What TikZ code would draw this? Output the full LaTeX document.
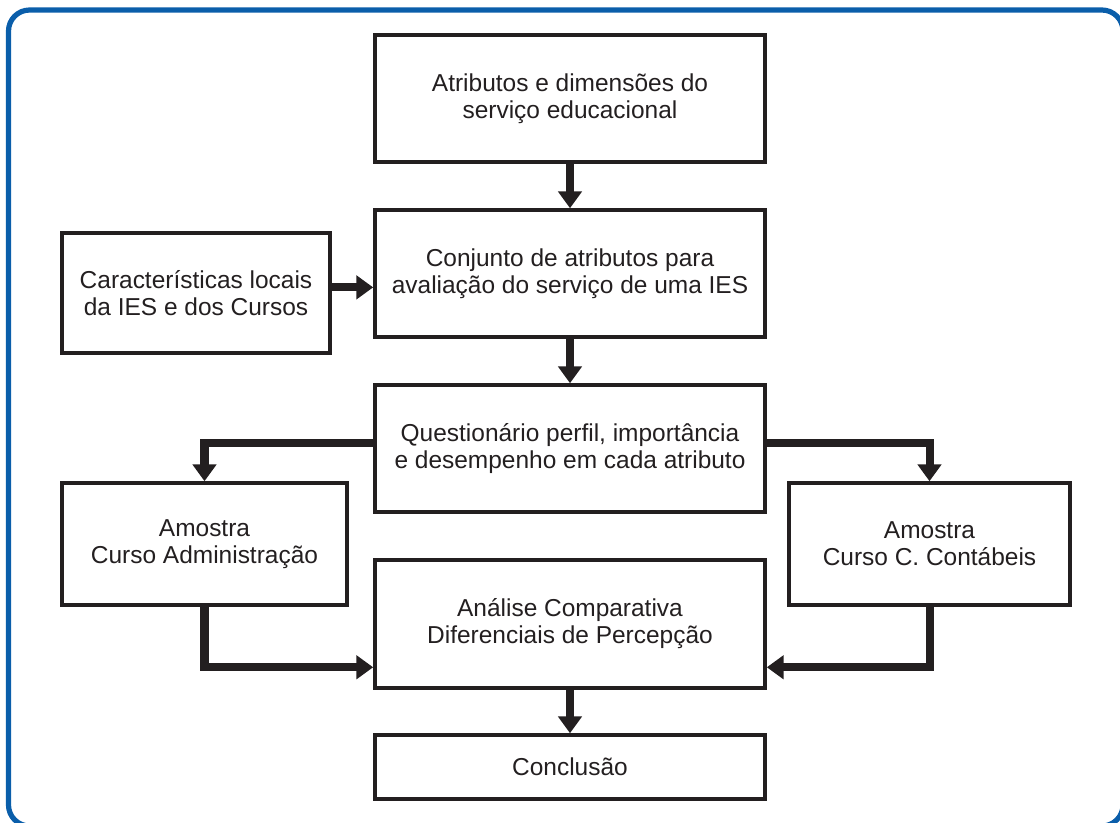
\documentclass[tikz,border=0pt]{standalone}
\usepackage{fontspec}
\setmainfont{Liberation Sans}
\usetikzlibrary{arrows.meta}
\definecolor{framebl}{RGB}{10,94,170}
\definecolor{boxink}{RGB}{35,31,32}

\begin{document}
\begin{tikzpicture}[x=0.025cm,y=-0.025cm,line join=miter,
  caixa/.style={draw=boxink,line width=2.5pt,inner sep=0pt,align=center,text=boxink,
    font=\fontsize{17.4}{19.2}\selectfont},
  seta/.style={draw=boxink,line width=5.7pt,-{Triangle[length=12pt,width=16.5pt]}}]
  \clip (0,0) rectangle (1120,823);
  % moldura azul
  \draw[framebl,line width=3.7pt,rounded corners=15pt] (8.5,10) rectangle (1123,826);
  % caixas
  \node[caixa,minimum width=9.75cm,minimum height=3.175cm] (atrib) at (570,98.5) {Atributos e dimensões do\\serviço educacional};
  \node[caixa,minimum width=9.75cm,minimum height=3.175cm] (conj) at (570,273.5) {Conjunto de atributos para\\avaliação do serviço de uma IES};
  \node[caixa,minimum width=6.7cm,minimum height=3.0cm] (carac) at (196,293) {Características locais\\da IES e dos Cursos};
  \node[caixa,minimum width=9.75cm,minimum height=3.175cm] (quest) at (570,448.5) {Questionário perfil, importância\\e desempenho em cada atributo};
  \node[caixa,minimum width=7.125cm,minimum height=3.05cm] (amAdm) at (204.5,544) {Amostra\\Curso Administração};
  \node[caixa,minimum width=7.025cm,minimum height=3.05cm] (amCont) at (929.5,544) {Amostra\\Curso C. Contábeis};
  \node[caixa,minimum width=9.75cm,minimum height=3.2cm] (anal) at (570,624) {Análise Comparativa\\Diferenciais de Percepção};
  \node[caixa,minimum width=9.75cm,minimum height=1.6cm] (concl) at (570,767) {Conclusão};
  % setas
  \draw[seta] (atrib.south) -- (conj.north);
  \draw[seta] ([yshift=4pt]carac.east) -- ([yshift=4pt]carac.east -| conj.west);
  \draw[seta] (conj.south) -- (quest.north);
  \draw[seta] ([yshift=4pt]quest.west) -| (amAdm.north);
  \draw[seta] ([yshift=4pt]quest.east) -| (amCont.north);
  \draw[seta] (amAdm.south) |- ([yshift=16pt]anal.south west);
  \draw[seta] (amCont.south) |- ([yshift=16pt]anal.south east);
  \draw[seta] (anal.south) -- (concl.north);
\end{tikzpicture}
\end{document}
